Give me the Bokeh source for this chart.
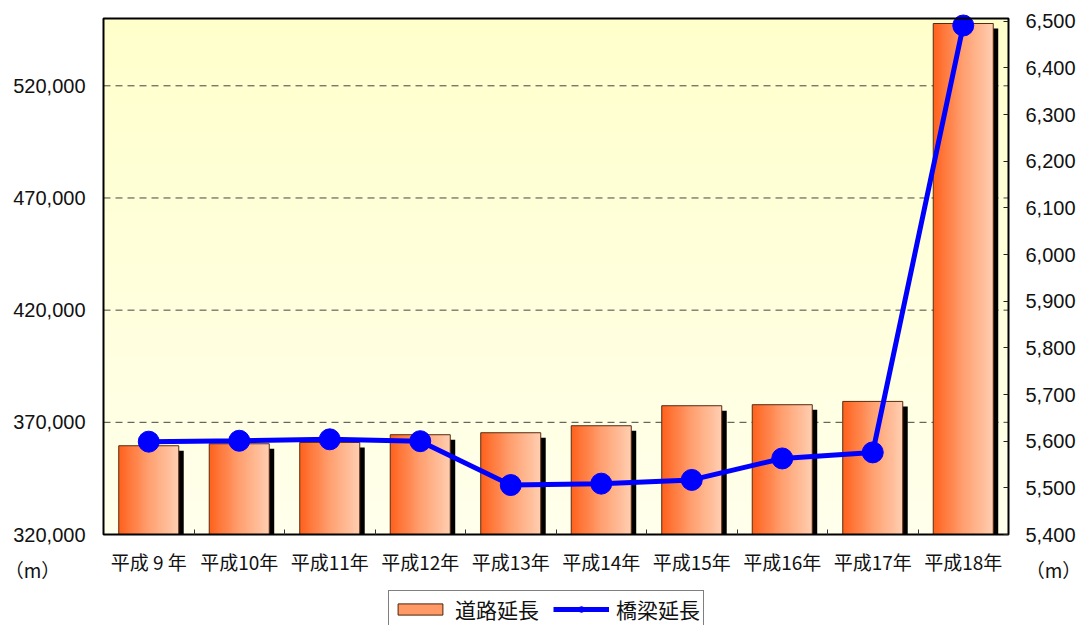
import numpy as np
from bokeh.plotting import figure
from bokeh.models import Range1d, LinearAxis, FixedTicker, Legend, LegendItem, Label
from bokeh.embed import file_html
from bokeh.resources import INLINE

# ---------------- data ----------------
categories = ["平成 9 年", "平成10年", "平成11年", "平成12年", "平成13年",
              "平成14年", "平成15年", "平成16年", "平成17年", "平成18年"]
road_length = [359560, 360450, 361030, 364470, 365360, 368480, 377400, 377850, 379320, 547770]
bridge_length = [5599, 5601, 5604, 5600, 5506, 5509, 5517, 5563, 5576, 6491]
left_ticks = [320000, 370000, 420000, 470000, 520000]
left_tick_labels = ["320,000", "370,000", "420,000", "470,000", "520,000"]
right_ticks = [5400, 5500, 5600, 5700, 5800, 5900, 6000, 6100, 6200, 6300, 6400, 6500]
right_tick_labels = ["5,400", "5,500", "5,600", "5,700", "5,800", "5,900",
                     "6,000", "6,100", "6,200", "6,300", "6,400", "6,500"]
legend_labels = ["道路延長", "橋梁延長"]
unit_text = "（m）"

# ---------------- layout / styles ----------------
W, H = 1082, 625                    # canvas
BOX_L, BOX_R, BOX_T, BOX_B = 103, 1008, 18, 534   # plot box in pixels
LEFT_LIM = (320000, 550000)
RIGHT_LIM = (5400, 6506)
JP = "Noto Sans CJK JP"
NUM = "Liberation Sans"
BAR_W = 0.663
SHADOW_DX = 0.055
SHADOW_DY = 2230
STOPS = [(0.0, (255, 98, 30)), (0.5, (255, 160, 112)), (1.0, (255, 206, 176))]


def grad_rgb(t):
    for (t0, c0), (t1, c1) in zip(STOPS[:-1], STOPS[1:]):
        if t <= t1:
            f = (t - t0) / (t1 - t0)
            return tuple(int(round(a + (b - a) * f)) for a, b in zip(c0, c1))
    return STOPS[-1][1]


def extend(lo, hi, p_lo, p_hi, total, inverted=False):
    """range covering the whole canvas so that [lo, hi] spans pixels [p_lo, p_hi]"""
    per = (hi - lo) / (p_hi - p_lo)
    if inverted:  # y: pixel grows downward
        return lo - (total - p_hi) * per, hi + p_lo * per
    return lo - p_lo * per, hi + (total - p_hi) * per


def rgba_image(rows, cols, fn):
    img = np.empty((rows, cols), dtype=np.uint32)
    v = img.view(dtype=np.uint8).reshape((rows, cols, 4))
    for r in range(rows):
        for c in range(cols):
            v[r, c, :3] = fn(r, c)
            v[r, c, 3] = 255
    return img


n_cat = len(categories)
x = np.arange(1, n_cat + 1, dtype=float)
xb0, xb1 = 0.5, n_cat + 0.5
y0, y1 = LEFT_LIM

xr = Range1d(*extend(xb0, xb1, BOX_L, BOX_R, W))
yr = Range1d(*extend(y0, y1, BOX_T, BOX_B, H, inverted=True))
rr = Range1d(*extend(RIGHT_LIM[0], RIGHT_LIM[1], BOX_T, BOX_B, H, inverted=True))

p = figure(width=W, height=H, x_range=xr, y_range=yr,
           output_backend="svg", toolbar_location=None,
           min_border_left=0, min_border_right=0, min_border_top=0, min_border_bottom=0,
           background_fill_color="white", border_fill_color="white",
           outline_line_color=None)
p.title.text = ""
p.title.visible = False
p.extra_y_ranges = {"bridge": rr}
p.grid.visible = False

# plot-box background: vertical gradient (pale yellow top -> cream bottom)
nbg = 200
bg = rgba_image(nbg, 1, lambda r, c: (255, 255, int(236 - 32 * r / (nbg - 1))))
p.image_rgba(image=[bg], x=xb0, y=y0, dw=xb1 - xb0, dh=y1 - y0, level="image")

# dashed grid lines inside the box
grid_vals = [v for v in left_ticks if y0 < v < y1]
p.segment(x0=[xb0] * len(grid_vals), x1=[xb1] * len(grid_vals), y0=grid_vals, y1=grid_vals,
          line_color="#444444", line_dash="7 5", line_width=1)

# bar shadows
p.vbar(x=x + SHADOW_DX, width=BAR_W, top=np.array(road_length) - SHADOW_DY, bottom=y0,
       fill_color="black", line_color=None)

# gradient bars (horizontal gradient image per bar)
ncol = 64
bar_img = rgba_image(1, ncol, lambda r, c: grad_rgb(c / (ncol - 1)))
p.image_rgba(image=[bar_img] * n_cat, x=list(x - BAR_W / 2), y=[y0] * n_cat,
             dw=[BAR_W] * n_cat, dh=[v - y0 for v in road_length])

# bar outlines
p.vbar(x=x, width=BAR_W, top=road_length, bottom=y0, fill_color=None,
       line_color="#5a2a10", line_width=1)

# legend-only bar renderer
bar_legend = p.vbar(x=[x[0]], width=BAR_W, top=[road_length[0]], bottom=y0,
                    fill_color="#FF9966", line_color="#4d2200", visible=False)

# bridge line
line_r = p.line(x, bridge_length, y_range_name="bridge", line_color="#0000FF", line_width=5)
dot_r = p.scatter(x, bridge_length, y_range_name="bridge", size=21,
                  fill_color="#0000FF", line_color="#0000FF")

# plot box border
p.quad(left=[xb0], right=[xb1], bottom=[y0], top=[y1], fill_color=None,
       line_color="black", line_width=2)

# axes (fixed at the box edges)
xa = p.xaxis[0]
xa.fixed_location = y0
xa.ticker = FixedTicker(ticks=list(x), minor_ticks=list(x[:-1] + 0.5))
xa.major_label_overrides = {float(xi): c for xi, c in zip(x, categories)}
xa.major_tick_in = 0
xa.major_tick_out = 0
xa.minor_tick_in = 5
xa.minor_tick_out = 0
xa.minor_tick_line_color = "#333333"
xa.axis_line_color = None
xa.major_label_standoff = 13
xa.major_label_text_font = JP
xa.major_label_text_font_size = "19px"
xa.major_label_text_color = "#111111"

ya = p.yaxis[0]
ya.fixed_location = xb0
ya.ticker = FixedTicker(ticks=left_ticks)
ya.major_label_overrides = {float(v): s for v, s in zip(left_ticks, left_tick_labels)}
ya.major_tick_in = 0
ya.major_tick_out = 0
ya.minor_tick_line_color = None
ya.axis_line_color = None
ya.major_label_standoff = 18
ya.major_label_text_font = NUM
ya.major_label_text_font_size = "20px"
ya.major_label_text_color = "#111111"

ra = LinearAxis(y_range_name="bridge", ticker=FixedTicker(ticks=right_ticks), fixed_location=xb1)
ra.major_label_overrides = {float(v): s for v, s in zip(right_ticks, right_tick_labels)}
ra.major_tick_in = 5
ra.major_tick_out = 0
ra.major_tick_line_color = "#222222"
ra.minor_tick_line_color = None
ra.axis_line_color = None
ra.major_label_standoff = 17
ra.major_label_text_font = NUM
ra.major_label_text_font_size = "20px"
ra.major_label_text_color = "#111111"
p.add_layout(ra, "right")

# unit labels
for xx, dx in ((xb0, -71), (xb1, 45)):
    p.add_layout(Label(x=xx, y=y0, x_offset=dx, y_offset=-35, text=unit_text,
                       text_align="center", text_baseline="middle",
                       text_font=JP, text_font_size="19px", text_color="#111111"))

legend = Legend(items=[LegendItem(label=legend_labels[0], renderers=[bar_legend]),
                       LegendItem(label=legend_labels[1], renderers=[line_r, dot_r])],
                orientation="horizontal", location=(388, -3),
                border_line_color="black", border_line_width=1,
                background_fill_color="white", background_fill_alpha=1.0,
                label_text_font=JP, label_text_font_size="21px", label_text_color="#111111",
                glyph_width=56, glyph_height=14, padding=3, spacing=14,
                label_standoff=7, margin=0)
p.add_layout(legend, "center")

open("out.html", "w").write(file_html(p, INLINE))
